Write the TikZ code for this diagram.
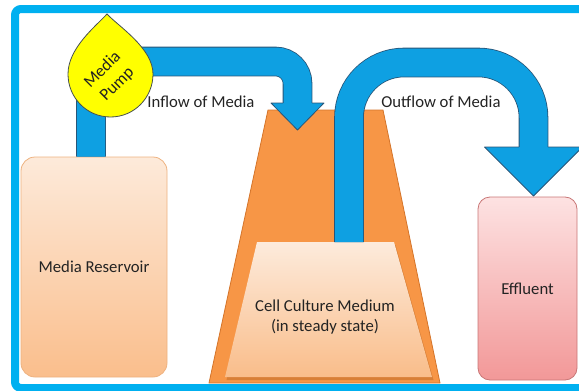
\documentclass[tikz,border=0pt]{standalone}
\usepackage{fontspec}
\setmainfont{Carlito}
\usepackage{tikz}
\definecolor{framecyan}{RGB}{0,176,240}
\definecolor{pipeblue}{RGB}{14,160,226}
\definecolor{pipeedge}{RGB}{40,85,120}
\definecolor{flaskorange}{RGB}{247,150,70}
\definecolor{flaskedge}{RGB}{212,116,42}
\definecolor{mediumtop}{RGB}{253,235,220}
\definecolor{mediumbot}{RGB}{249,189,138}
\definecolor{restop}{RGB}{253,234,218}
\definecolor{resbot}{RGB}{250,190,140}
\definecolor{resedge}{RGB}{238,178,128}
\definecolor{efftop}{RGB}{253,226,226}
\definecolor{effbot}{RGB}{242,152,152}
\definecolor{effedge}{RGB}{200,118,118}
\definecolor{pumpyellow}{RGB}{255,255,0}
\definecolor{pumpedge}{RGB}{70,80,80}
\definecolor{inktext}{RGB}{35,35,35}
\newcommand{\boxfont}{\fontsize{16.7pt}{20.5pt}\selectfont}
\tikzset{pipe/.style={
  draw=pipeedge,
  line width=0.8pt,
  double=pipeblue,
  double distance=28pt
  },
  tank/.style={draw, line width=0.8pt, rounded corners=14pt, font=\boxfont, text=inktext},
  tag/.style={font=\boxfont, text=inktext}
}

\begin{document}
\begin{tikzpicture}[x=1pt,y=-1pt]
    \useasboundingbox (0,0) rectangle (579,391);
    \draw[framecyan, line width=8pt, rounded corners=6pt] (15,9) rectangle (600,388);

    \draw[flaskedge, fill=flaskorange, line width=0.8pt] (268,110) -- (383,110) -- (440,383) -- (209,383) -- cycle;
    \fill[flaskedge!85!black, opacity=0.45, shift={(1.5,3)}] (257,242) -- (394,242) -- (432,377) -- (225,377) -- cycle;
    \shade[top color=mediumtop, bottom color=mediumbot] (257,242) -- (394,242) -- (432,377) -- (225,377) -- cycle;
    \node[tag, align=center] (cell) at (325,317) {Cell Culture Medium\\(in steady state)};

    \node[tank, draw=resedge, top color=restop, bottom color=resbot, minimum width=146pt, minimum height=220pt] (res) at (94,267) {Media Reservoir};
    \node[tank, draw=effedge, top color=efftop, bottom color=effbot, minimum width=99pt, minimum height=183pt, rounded corners=12pt] (eff) at (527.5,288.5) {Effluent};

    \coordinate (inEnd) at (297.5,103);
    \coordinate (outStart) at (349,242);
    \coordinate (outEnd) at (533.5,147);
    \draw[pipe, rounded corners=22pt] ([xshift=-3pt]res.north) -- (91,61.5) -- (297.5,61.5) -- (inEnd);
    \draw[pipe, rounded corners=55pt] (outStart) -- (349,62.5) -- (533.5,62.5) -- (outEnd);

    \foreach \x/\y/\w/\h in {297.5/103/26.5/27, 533.5/147/49/49} {
        \fill[pipeblue] (\x-\w,\y) -- (\x,\y+\h) -- (\x+\w,\y) -- cycle;
        \draw[pipeedge, line width=0.8pt, line join=round] (\x-14.4,\y) -- (\x-\w,\y) -- (\x,\y+\h) -- (\x+\w,\y) -- (\x+14.4,\y);
    }

    \draw[pumpedge, fill=pumpyellow, line width=0.8pt] (107,14) .. controls (96,26) and (68,48) .. (68,74)
        .. controls (68,97.7) and (86.8,117) .. (110.5,117)
        .. controls (134.2,117) and (153,97.7) .. (153,74)
        .. controls (153,48) and (118,26) .. (107,14) -- cycle;
    \node[tag, rotate=45, align=center, font=\fontsize{17pt}{20.5pt}\selectfont] (pump) at (110,77) {Media\\Pump};

    \node[tag] (inflow) at (201,102) {Inflow of Media};
    \node[tag] (outflow) at (441,102) {Outflow of Media};
\end{tikzpicture}
\end{document}
